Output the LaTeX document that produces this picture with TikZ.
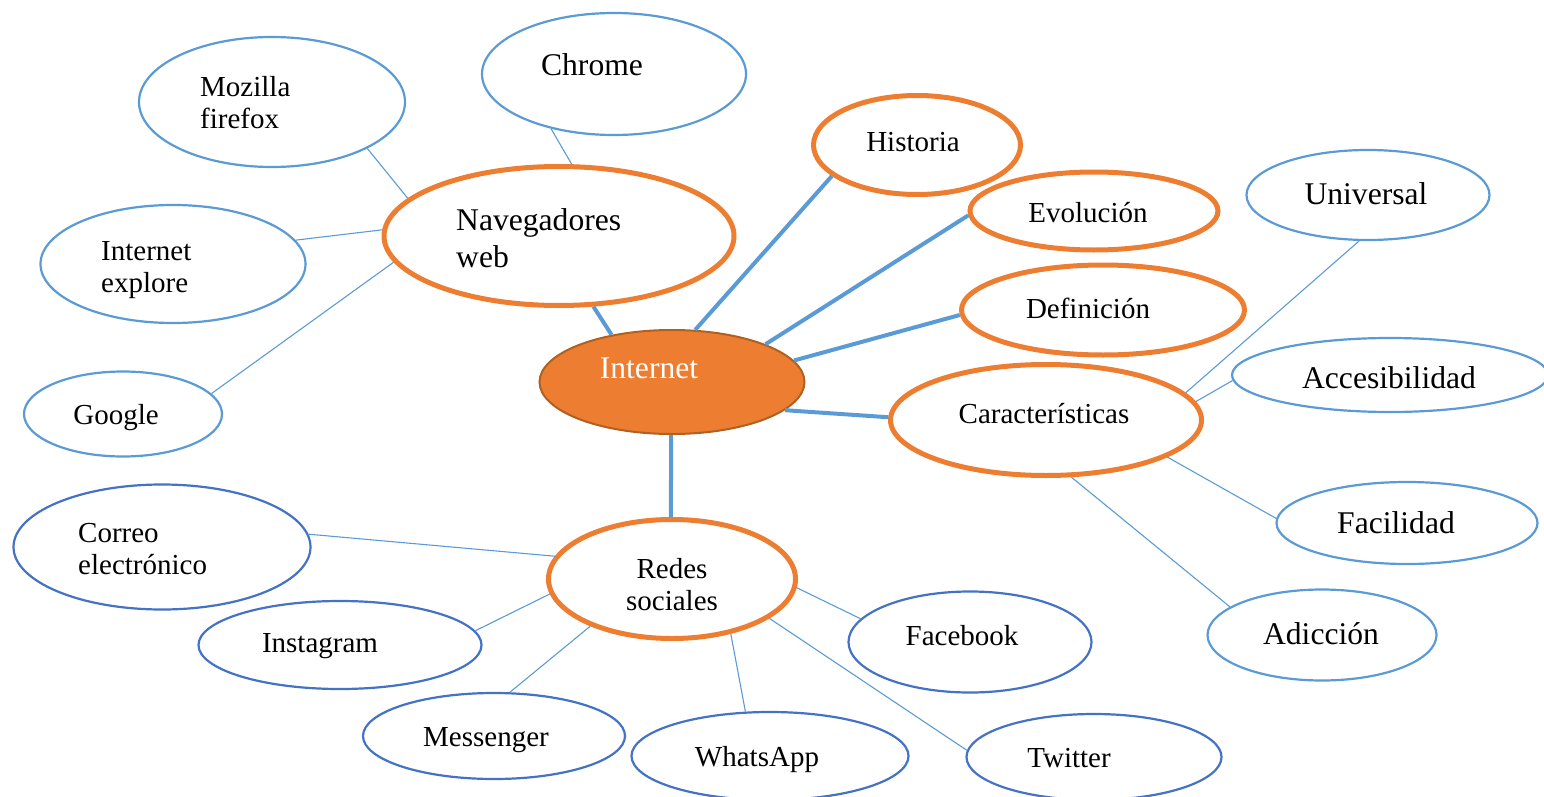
\documentclass[tikz,border=0pt]{standalone}
\usepackage{fontspec}
\setmainfont{Liberation Serif}
\usetikzlibrary{shapes.geometric}
\definecolor{lblue}{HTML}{5B9BD5}
\definecolor{dblue}{HTML}{4472C4}
\definecolor{orng}{HTML}{ED7D31}
\definecolor{brwn}{HTML}{B0601F}
\newcommand\fsm{\fontsize{29}{32}\selectfont}
\newcommand\flg{\fontsize{31.6}{37}\selectfont}
\begin{document}
\begin{tikzpicture}[x=1pt,y=-1pt,
  ell/.style 2 args={ellipse,inner sep=0pt,minimum width=#1,minimum height=#2,fill=white},
  lb/.style={draw=lblue,line width=2.2pt},
  db/.style={draw=dblue,line width=2.2pt},
  ob/.style={draw=orng,line width=5pt},
  txt/.style={inner sep=0pt,text height=20pt,text depth=0pt,anchor=center},
  mtxt/.style={inner sep=0pt,align=left,anchor=west},
  thick conn/.style={draw=lblue,line width=4pt},
  thin conn/.style={draw=lblue,line width=1.1pt}]
\useasboundingbox (0,0) rectangle (1544,797);
% ellipses
\node[ell={266}{130},lb] (moz) at (272,102) {};
\node[ell={264}{122},lb] (chrome) at (614,74) {};
\node[ell={350}{139},ob] (nav) at (559,236) {};
\node[ell={265}{118},lb] (ie) at (173,264) {};
\node[ell={198}{85},lb] (google) at (123,414) {};
\node[ell={265}{104},fill=orng,draw=brwn,line width=2pt] (inet) at (672,382) {};
\node[ell={207}{99},ob] (hist) at (917,145) {};
\node[ell={248}{78},ob] (evol) at (1094,211) {};
\node[ell={283}{90},ob] (defn) at (1103,310) {};
\node[ell={311}{111},ob] (carac) at (1046,420) {};
\node[ell={243}{90},lb] (univ) at (1368,195) {};
\node[ell={316}{74},lb] (acces) at (1390,375) {};
\node[ell={261}{82},lb] (facil) at (1407,523) {};
\node[ell={229}{91},lb] (adic) at (1322,635) {};
\node[ell={247}{119},ob] (redes) at (672,579) {};
\node[ell={297}{125},db] (correo) at (162,547) {};
\node[ell={283}{88},db] (insta) at (340,645) {};
\node[ell={262}{86},db] (mess) at (494,736) {};
\node[ell={277}{88},db] (whats) at (770,756) {};
\node[ell={255}{86},db] (twit) at (1094,757) {};
\node[ell={243}{101},db] (fb) at (970,642) {};
% texts
\node[mtxt,font=\fsm] (tmoz) at (200,103) {Mozilla\\firefox};
\node[txt,font=\flg] (tchrome) at (592,66) {Chrome};
\node[mtxt,font=\flg] (tnav) at (456,238) {Navegadores\\web};
\node[mtxt,font=\fsm] (tie) at (101,270) {Internet\\explore};
\node[txt,font=\fsm] (tgoogle) at (116,414) {Google};
\node[txt,font=\flg,text=white] (tinet) at (649,368) {Internet};
\node[txt,font=\fsm] (thist) at (913,141) {Historia};
\node[txt,font=\fsm] (tevol) at (1088,212) {Evolución};
\node[txt,font=\fsm] (tdefn) at (1088,308) {Definición};
\node[txt,font=\fsm] (tcarac) at (1044,413) {Características};
\node[txt,font=\flg] (tuniv) at (1366,194) {Universal};
\node[txt,font=\flg] (tacces) at (1389,378) {Accesibilidad};
\node[txt,font=\flg] (tfacil) at (1396,523) {Facilidad};
\node[txt,font=\flg] (tadic) at (1321,634) {Adicción};
\node[inner sep=0pt,align=center,font=\fsm] (tredes) at (672,585) {Redes\\sociales};
\node[mtxt,font=\fsm] (tcorreo) at (78,549) {Correo\\electrónico};
\node[txt,font=\fsm] (tinsta) at (320,642) {Instagram};
\node[txt,font=\fsm] (tmess) at (486,736) {Messenger};
\node[txt,font=\fsm] (twhats) at (757,756) {WhatsApp};
\node[txt,font=\fsm] (ttwit) at (1069,757) {Twitter};
\node[txt,font=\fsm] (tfb) at (962,635) {Facebook};
% thick connectors
\draw[thick conn] (inet.142) -- (nav.-64);
\draw[thick conn] (inet.66) -- (hist.200);
\draw[thick conn] (inet.22) -- (evol.182);
\draw[thick conn] (inet.10) -- (defn.182);
\draw[thick conn] (inet.-14) -- (carac.179);
\draw[thick conn] (inet.-91) -- (redes.91);
% thin connectors
\draw[thin conn] (moz.-26) -- (nav.166);
\draw[thin conn] (chrome.221) -- (nav.80);
\draw[thin conn] (ie.11) -- (nav.178);
\draw[thin conn] (google.13) -- (nav.189);
\draw[thin conn] (univ.259) -- (carac.11.5);
\draw[thin conn] (acces.182) -- (carac.7);
\draw[thin conn] (facil.178) -- (carac.-17);
\draw[thin conn] (adic.163) -- (carac.-66);
\draw[thin conn] (correo.5) -- (redes.169);
\draw[thin conn] (insta.6) -- (redes.187);
\draw[thin conn] (mess.70) -- (redes.210);
\draw[thin conn] (whats.119) -- (redes.-43);
\draw[thin conn] (twit.177) -- (redes.-22);
\draw[thin conn] (fb.168) -- (redes.-4);
\end{tikzpicture}
\end{document}
